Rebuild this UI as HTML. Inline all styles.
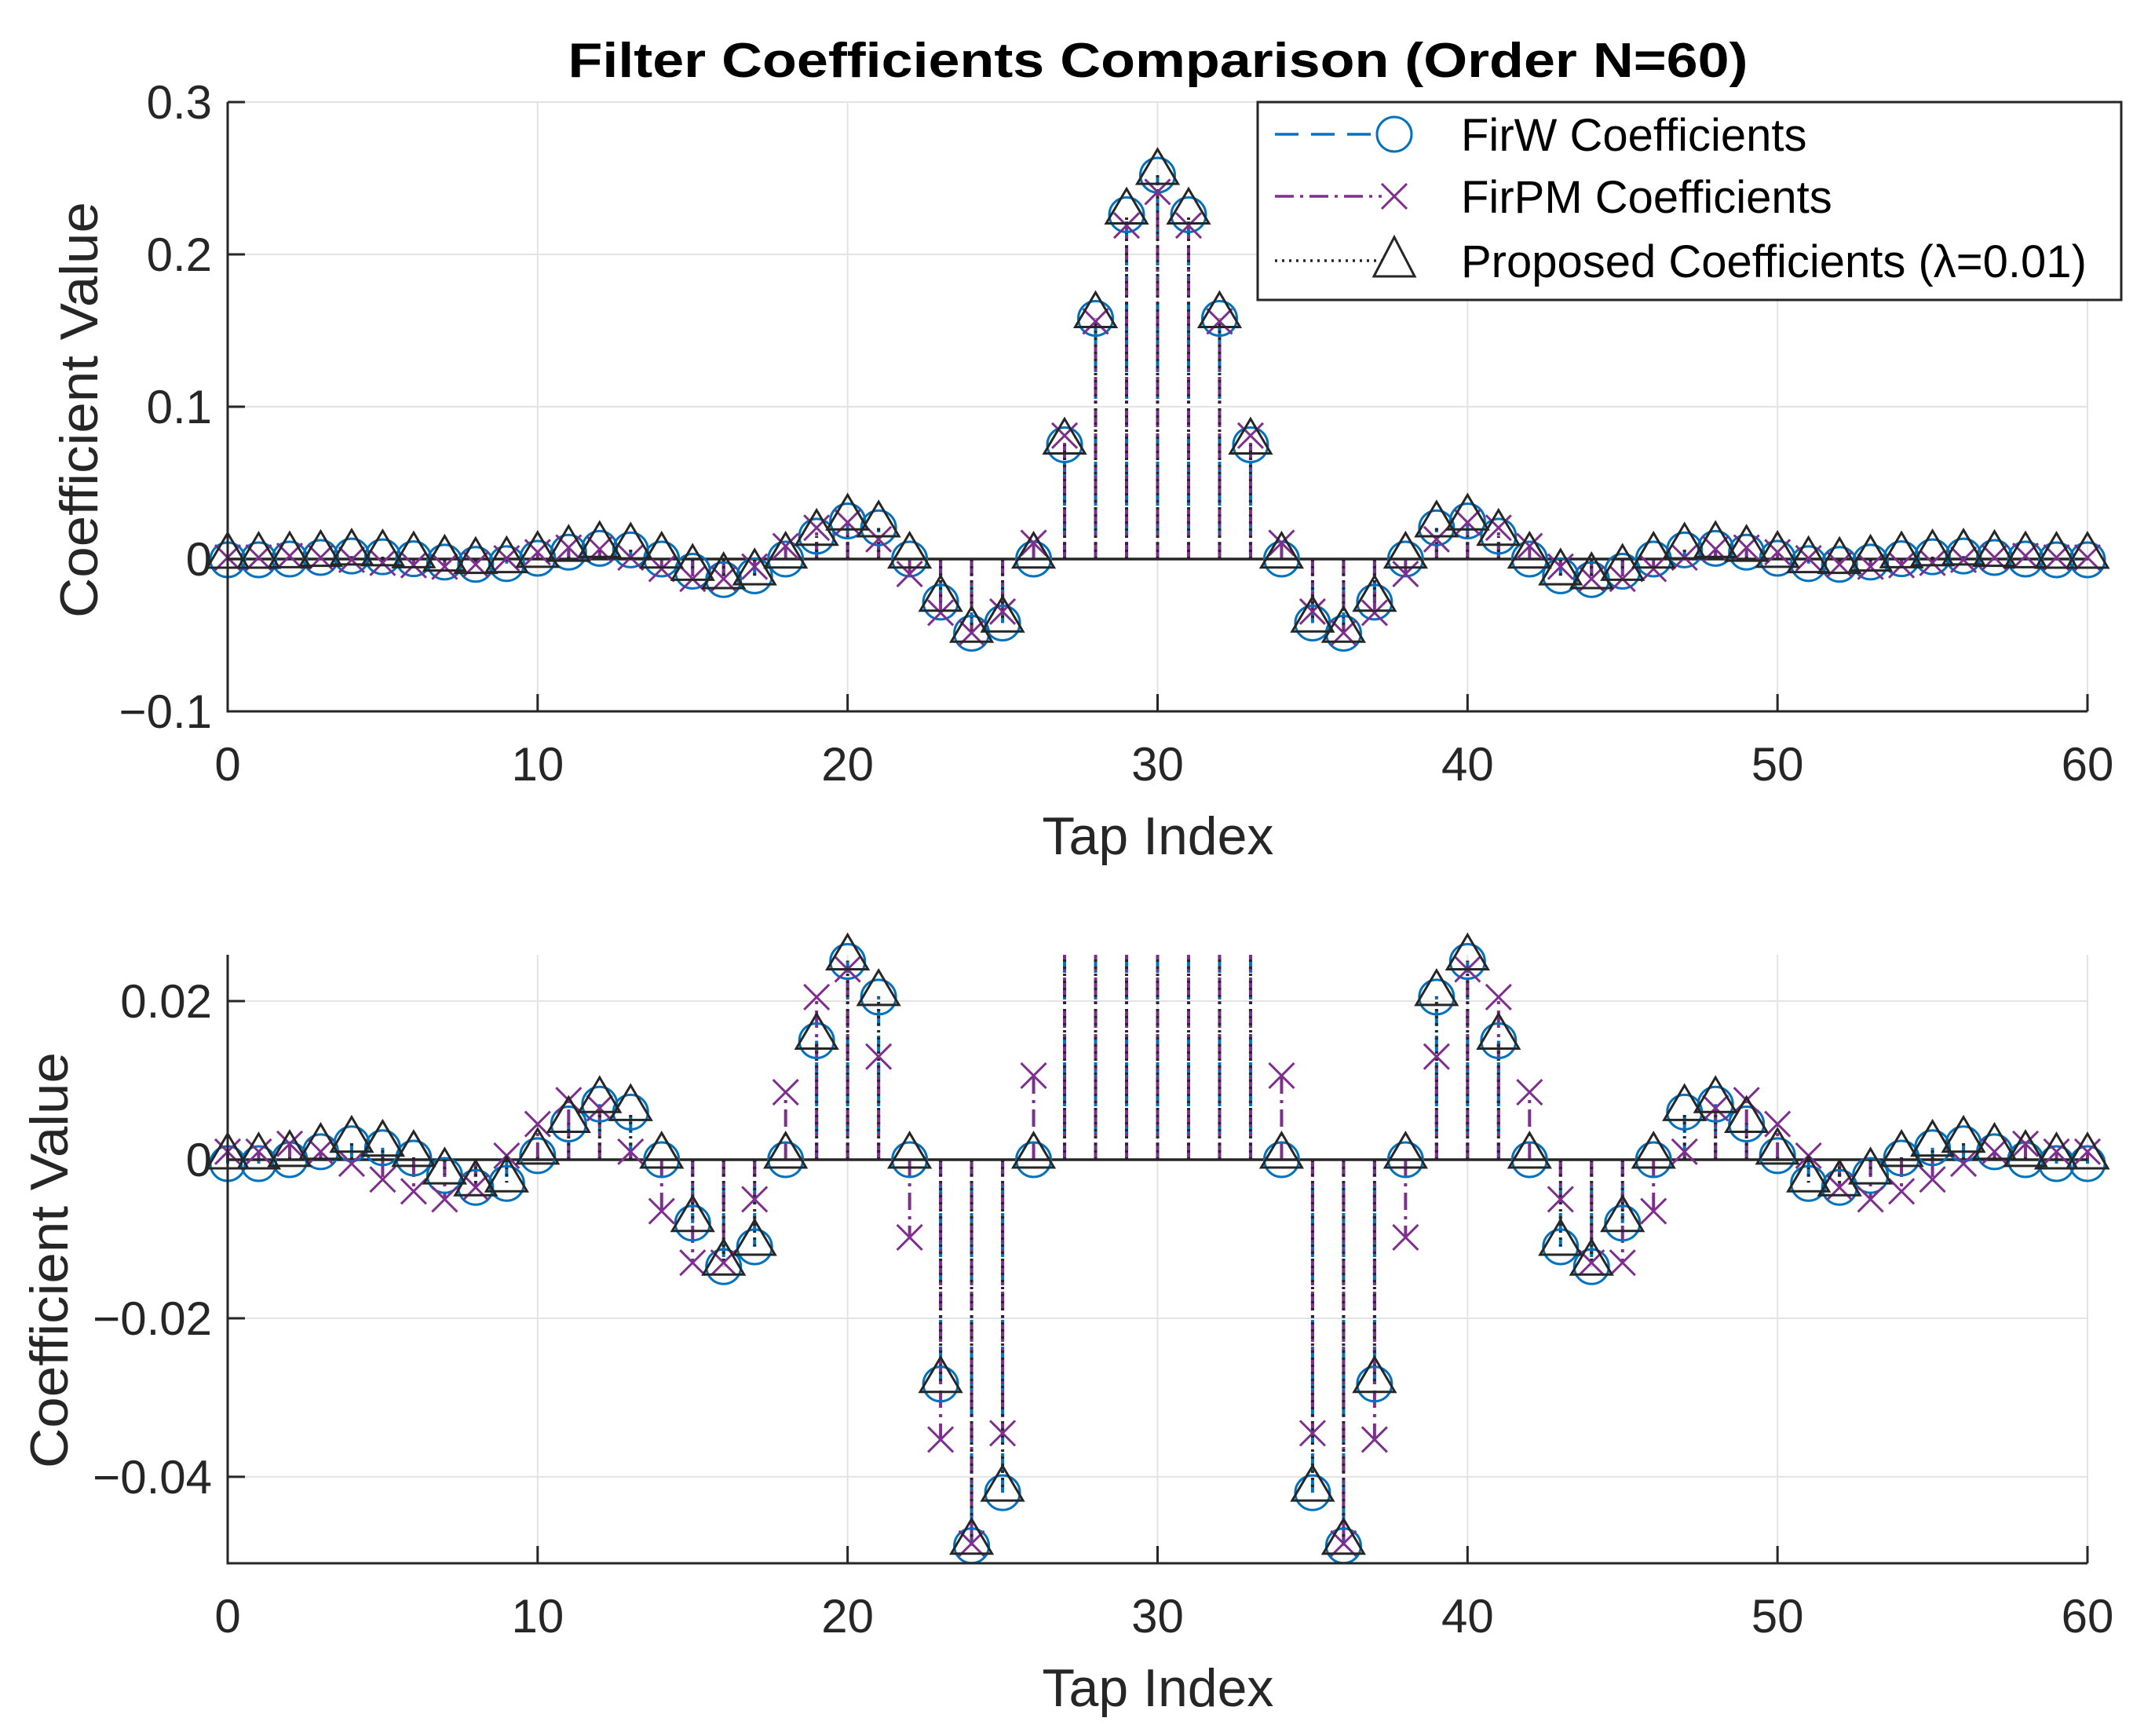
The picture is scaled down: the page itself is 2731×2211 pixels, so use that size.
<!DOCTYPE html>
<html><head><meta charset="utf-8"><style>
html,body{margin:0;padding:0;background:#fff;}
svg{display:block;font-family:"Liberation Sans",Arial,sans-serif;}
</style></head><body>
<svg id="fig" width="2731" height="2211" viewBox="0 0 2731 2211" xmlns="http://www.w3.org/2000/svg">
<rect width="2731" height="2211" fill="#fff"/>
<defs>
<clipPath id="clipTop"><rect x="288" y="128" width="2374" height="780"/></clipPath>
<clipPath id="clipBot"><rect x="288" y="1216" width="2374" height="776"/></clipPath>
<clipPath id="clipTopM"><rect x="240" y="90" width="2470" height="860"/></clipPath>
<clipPath id="clipBotM"><rect x="240" y="1170" width="2470" height="870"/></clipPath>
</defs>
<text x="1475" y="98" font-size="62" font-weight="bold" text-anchor="middle" textLength="1503" lengthAdjust="spacingAndGlyphs" fill="#000">Filter Coefficients Comparison (Order N=60)</text>
<g id="top"></g>
<g id="bot"></g>
</svg>
<script>
const taps = Array.from({length:61},(_,i)=>i);
// half (n=0..30), mirrored symmetric
const firwHalf = [-0.0005,-0.0005,0,0.001,0.002,0.0015,0.0002,-0.002,-0.0035,-0.003,0.0005,0.0045,0.007,0.006,0,-0.008,-0.0135,-0.011,0,0.015,0.025,0.0205,0,-0.0283,-0.0487,-0.042,0,0.075,0.158,0.226,0.252];
const firpmHalf = [0.001,0.001,0.002,0.001,-0.0005,-0.0025,-0.004,-0.005,-0.0035,0.0005,0.0045,0.0075,0.0065,0.001,-0.0065,-0.013,-0.013,-0.005,0.0085,0.0205,0.024,0.013,-0.0098,-0.0353,-0.0484,-0.0345,0.0106,0.081,0.156,0.219,0.241];
const propHalf = [0,0,0.0003,0.0012,0.0021,0.0016,0.0003,-0.0019,-0.0034,-0.0029,0.0006,0.0046,0.0071,0.0061,0.0001,-0.0079,-0.0134,-0.0109,0.0001,0.0151,0.0251,0.0206,0.0001,-0.0282,-0.0486,-0.0419,0.0001,0.075,0.158,0.226,0.252];
const mirror = h => taps.map(n => h[n<=30?n:60-n]);
const firw = mirror(firwHalf), firpm = mirror(firpmHalf), prop = mirror(propHalf);
const xTicks = [0,10,20,30,40,50,60];
const yTicksTop = [0.3,0.2,0.1,0,-0.1];
const yTickLabelsTop = ["0.3","0.2","0.1","0","\u22120.1"];
const yTicksBot = [0.02,0,-0.02,-0.04];
const yTickLabelsBot = ["0.02","0","\u22120.02","\u22120.04"];

const NS="http://www.w3.org/2000/svg";
function mk(parent,tag,attrs){const e=document.createElementNS(NS,tag);for(const k in attrs)e.setAttribute(k,attrs[k]);parent.appendChild(e);return e;}

const BLUE="#0072BD", PURP="#7E2F8E", BLK="#262626";

function drawPlot(g, cfg){
  const X = v => cfg.x0 + (v-0)/60*(cfg.x1-cfg.x0);
  const Y = v => cfg.yTop + (cfg.ymax - v)/(cfg.ymax-cfg.ymin)*(cfg.yBot-cfg.yTop);
  xTicks.forEach(t=>{const l=mk(g,'line',{x1:X(t),x2:X(t),y1:cfg.yTop,y2:cfg.yBot,stroke:'#e3e3e3','stroke-width':2});
    
    });
  cfg.yTicks.forEach(t=>{const l=mk(g,'line',{x1:cfg.x0,x2:cfg.x1,y1:Y(t),y2:Y(t),stroke:'#e3e3e3','stroke-width':2});
    
    });
  const series=[
    {vals:firw,color:BLUE,dash:'22,12',name:'firw'},
    {vals:firpm,color:PURP,dash:'22,8,4,8',name:'firpm'},
    {vals:prop,color:BLK,dash:'3,6',name:'proposed'}];
  const cg = mk(g,'g',{'clip-path':`url(#${cfg.clip})`});
  const mg = mk(g,'g',{'clip-path':`url(#${cfg.clip}M)`});
  series.forEach(s=>{
    s.vals.forEach((v,i)=>{
      const l=mk(cg,'line',{x1:X(i),x2:X(i),y1:Y(0),y2:Y(v),stroke:s.color,'stroke-width':4,'stroke-dasharray':s.dash});
      
      
    });
  });
  const bl=mk(cg,'line',{x1:cfg.x0,x2:cfg.x1,y1:Y(0),y2:Y(0),stroke:BLK,'stroke-width':3.5});
  
  
  firw.forEach((v,i)=>{
    const c=mk(mg,'circle',{cx:X(i),cy:Y(v),r:22,fill:'none',stroke:BLUE,'stroke-width':3});
    
    
  });
  firpm.forEach((v,i)=>{
    const x=X(i),y=Y(v),d=16;
    const p=mk(mg,'path',{d:`M${x-d},${y-d}L${x+d},${y+d}M${x-d},${y+d}L${x+d},${y-d}`,stroke:PURP,'stroke-width':3,fill:'none'});
    
    
  });
  prop.forEach((v,i)=>{
    const x=X(i),y=Y(v);
    const p=mk(mg,'path',{d:`M${x},${y-33}L${x+26},${y+11}L${x-26},${y+11}Z`,stroke:BLK,'stroke-width':3,fill:'none'});
    
    
  });
  const ax=mk(g,'path',{d:`M${cfg.x0},${cfg.yTop}V${cfg.yBot}H${cfg.x1}`,stroke:BLK,'stroke-width':3,fill:'none'});
  
  
  xTicks.forEach(t=>{
    const l=mk(g,'line',{x1:X(t),x2:X(t),y1:cfg.yBot,y2:cfg.yBot-22,stroke:BLK,'stroke-width':3});
    
    
    const tx=mk(g,'text',{x:X(t),y:cfg.yBot+88,'font-size':60,'text-anchor':'middle',fill:BLK});
    tx.textContent=t;
    
    
  });
  cfg.yTicks.forEach((t,k)=>{
    const l=mk(g,'line',{x1:cfg.x0,x2:cfg.x0+22,y1:Y(t),y2:Y(t),stroke:BLK,'stroke-width':3});
    
    
    const tx=mk(g,'text',{x:cfg.x0-20,y:Y(t)+21,'font-size':60,'text-anchor':'end',fill:BLK});
    tx.textContent=cfg.yLabels[k];
    
    
  });
  const xl=mk(g,'text',{x:1475,y:cfg.xLabelY,'font-size':68,'text-anchor':'middle',fill:BLK});
  xl.textContent='Tap Index';
  
  
  const yl=mk(g,'text',{x:0,y:0,'font-size':68,'text-anchor':'middle',fill:BLK,textLength:530,lengthAdjust:'spacingAndGlyphs',transform:`translate(${cfg.yLabelX},${cfg.yLabelY}) rotate(-90)`});
  yl.textContent='Coefficient Value';
  
  
}

drawPlot(document.getElementById('top'),{x0:290,x1:2659,yTop:130,yBot:906,ymax:0.3,ymin:-0.1,yTicks:yTicksTop,yLabels:yTickLabelsTop,clip:'clipTop',xLabelY:1088,yLabelX:124,yLabelY:522});
drawPlot(document.getElementById('bot'),{x0:290,x1:2659,yTop:1216,yBot:1991,ymax:0.02584,ymin:-0.0509,yTicks:yTicksBot,yLabels:yTickLabelsBot,clip:'clipBot',xLabelY:2173,yLabelX:86,yLabelY:1605});

const svg=document.getElementById('fig');
const lg=mk(svg,'g',{});


const lbox=mk(lg,'rect',{x:1602,y:130,width:1100,height:252,fill:'#fff',stroke:BLK,'stroke-width':3});


const entries=[
  {label:'FirW Coefficients',color:BLUE,dash:'30,16',y:179,m:'circle'},
  {label:'FirPM Coefficients',color:PURP,dash:'24,8,4,8',y:258,m:'x'},
  {label:'Proposed Coefficients (\u03bb=0.01)',color:BLK,dash:'3,6',y:340,m:'tri'}];
entries.forEach(e=>{
  const eg=mk(lg,'g',{});
  
  
  mk(eg,'line',{x1:1624,x2:1760,y1:e.y-8,y2:e.y-8,stroke:e.color,'stroke-width':3.5,'stroke-dasharray':e.dash});
  const mx=1776,my=e.y-8;
  if(e.m==='circle') mk(eg,'circle',{cx:mx,cy:my,r:22,fill:'#fff',stroke:e.color,'stroke-width':3});
  if(e.m==='x') mk(eg,'path',{d:`M${mx-16},${my-16}L${mx+16},${my+16}M${mx-16},${my+16}L${mx+16},${my-16}`,stroke:e.color,'stroke-width':3});
  if(e.m==='tri') mk(eg,'path',{d:`M${mx},${my-30}L${mx+26},${my+20}L${mx-26},${my+20}Z`,fill:'#fff',stroke:e.color,'stroke-width':3});
  const t=mk(eg,'text',{x:1861,y:e.y+13,'font-size':58,fill:'#000'});
  t.textContent=e.label;
});
</script>
</body></html>
